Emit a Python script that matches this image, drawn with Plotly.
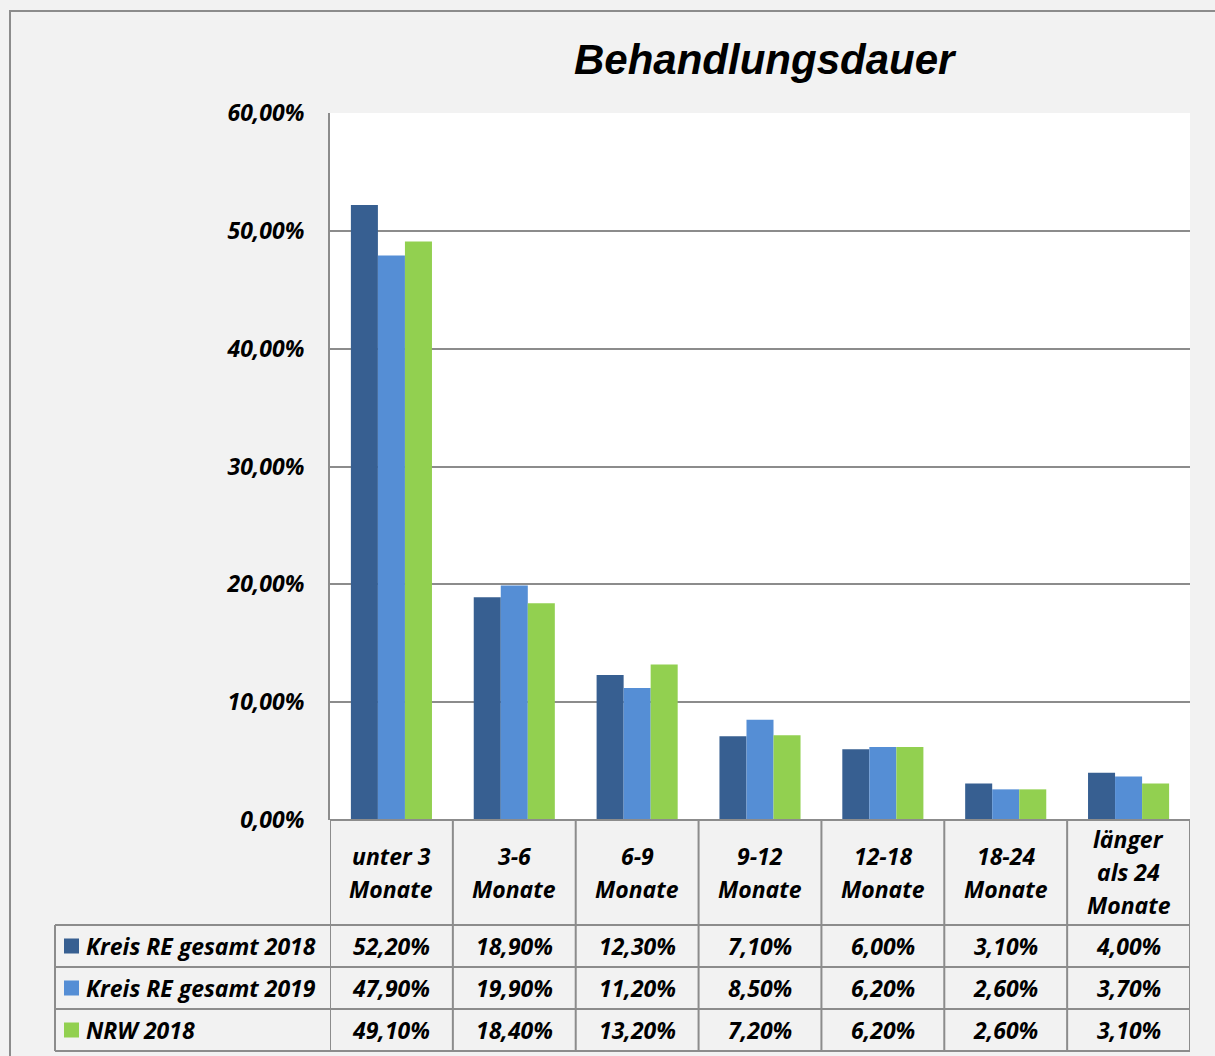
import plotly.graph_objects as go

# ---- data ----
categories = ["unter 3<br>Monate", "3-6<br>Monate", "6-9<br>Monate", "9-12<br>Monate",
              "12-18<br>Monate", "18-24<br>Monate", "länger<br>als 24<br>Monate"]
series_names = ["Kreis RE gesamt 2018", "Kreis RE gesamt 2019", "NRW 2018"]
kreis_2018 = [52.2, 18.9, 12.3, 7.1, 6.0, 3.1, 4.0]
kreis_2019 = [47.9, 19.9, 11.2, 8.5, 6.2, 2.6, 3.7]
nrw_2018 = [49.1, 18.4, 13.2, 7.2, 6.2, 2.6, 3.1]
colors = ["#375F91", "#558ED5", "#92D050"]
title_text = "Behandlungsdauer"

series = [kreis_2018, kreis_2019, nrw_2018]

W, H = 1215, 1056
L, R, T, B = 330, 25, 113, 236
PW, PH = W - L - R, H - T - B


def px(x):
    return (x - L) / PW


def py(y):
    return (H - B - y) / PH


GRID = "#8C8C8C"
FONT = "Open Sans"
FS = 23

fig = go.Figure()
for name, vals, c in zip(series_names, series, colors):
    fig.add_trace(go.Bar(
        x=categories, y=[v / 100 for v in vals], name=name,
        marker=dict(color=c, line=dict(width=0)),
    ))

shapes = []
# outer border
shapes.append(dict(type="rect", xref="paper", yref="paper", x0=px(10), x1=px(1230),
                   y0=py(11), y1=py(1070), line=dict(color="#8C8C8C", width=2), layer="below"))
# table lines
row_y = [925, 967, 1009, 1051]
shapes.append(dict(type="line", xref="paper", yref="paper", x0=px(330), x1=1, y0=py(820), y1=py(820),
                   line=dict(color=GRID, width=2)))
for yy in row_y:
    shapes.append(dict(type="line", xref="paper", yref="paper", x0=px(55), x1=1, y0=py(yy), y1=py(yy),
                       line=dict(color=GRID, width=2)))
shapes.append(dict(type="line", xref="paper", yref="paper", x0=px(55), x1=px(55), y0=py(925), y1=py(1051),
                   line=dict(color=GRID, width=2)))
for i in range(len(categories) + 1):
    shapes.append(dict(type="line", xref="x", yref="paper", x0=i - 0.5, x1=i - 0.5,
                       y0=py(820), y1=py(1051), line=dict(color=GRID, width=2)))
# legend keys
row_centers = [946, 988, 1030]
for yc, c in zip(row_centers, colors):
    shapes.append(dict(type="rect", xref="paper", yref="paper", x0=px(64), x1=px(79),
                       y0=py(yc - 7.5), y1=py(yc + 7.5), fillcolor=c, line=dict(width=0)))

annotations = []
tfont = dict(family=FONT, size=FS, color="black", weight="bold", style="italic")
annotations.append(dict(text=title_text, xref="paper", yref="paper", x=px(765), y=py(60),
                        showarrow=False, xanchor="center", yanchor="middle",
                        font=dict(family="Liberation Sans", size=42, color="black",
                                  weight="bold", style="italic")))
LINE_H = 33
for i, cat in enumerate(categories):
    lines = cat.split("<br>")
    n = len(lines)
    for k, ln in enumerate(lines):
        yc = 872 + (k - (n - 1) / 2) * LINE_H
        annotations.append(dict(text=ln, xref="x", yref="paper", x=i, y=py(yc),
                                showarrow=False, xanchor="center", yanchor="middle", font=tfont))
for yc, name, vals in zip(row_centers, series_names, series):
    annotations.append(dict(text=name, xref="paper", yref="paper", x=px(84), y=py(yc),
                            showarrow=False, xanchor="left", yanchor="middle", font=tfont))
    for i, v in enumerate(vals):
        annotations.append(dict(text=f"{v:.2f}".replace(".", ",") + "%", xref="x", yref="paper",
                                x=i, y=py(yc), showarrow=False, xanchor="center",
                                yanchor="middle", font=tfont))

fig.update_layout(
    width=W, height=H,
    margin=dict(l=L, r=R, t=T, b=B, autoexpand=False),
    paper_bgcolor="#F2F2F2", plot_bgcolor="white",
    barmode="group", bargap=0.34, bargroupgap=0,
    showlegend=False, separators=",.",
    shapes=shapes, annotations=annotations,
    xaxis=dict(range=[-0.5, 6.5], showticklabels=False, showgrid=False, zeroline=False,
               showline=False, fixedrange=True),
    yaxis=dict(range=[0, 0.6], dtick=0.1, tickformat=".2%", showgrid=True, gridcolor=GRID,
               gridwidth=2, zeroline=False, showline=True, linecolor=GRID, linewidth=2,
               ticks="", ticklabelstandoff=19,
               tickfont=dict(family=FONT, size=FS, color="black", weight="bold", style="italic")),
)

fig.write_html("out.html", config={"displayModeBar": False},
               post_script="document.body.style.margin='0';document.body.style.overflow='hidden';")
